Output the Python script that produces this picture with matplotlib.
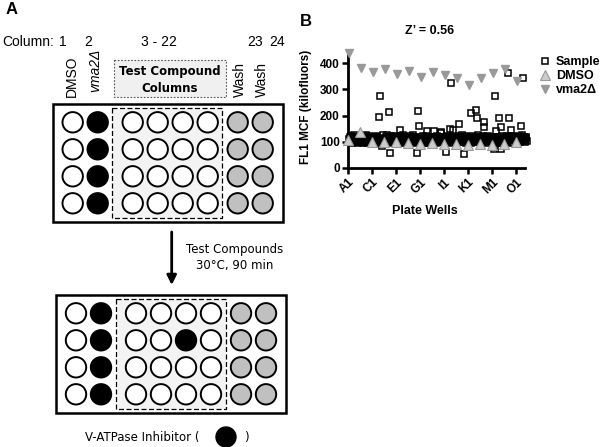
import matplotlib
matplotlib.use("Agg")
import matplotlib.pyplot as plt
from matplotlib.patches import Circle, Rectangle

plt.rcParams["font.family"] = ["Liberation Sans", "DejaVu Sans"]

# -------------------------
# Panel B data
# -------------------------
well_labels = ["A1", "C1", "E1", "G1", "I1", "K1", "M1", "O1"]
label_wells = [0, 48, 96, 144, 192, 240, 288, 336]

# column 1 (DMSO) and column 2 (vma2 delta) of rows A..O
dmso_mcf = [105, 137, 99, 99, 99, 95, 91, 95, 91, 91, 88, 91, 88, 91, 101]
vma2_mcf = [438, 381, 365, 377, 359, 370, 347, 368, 356, 345, 315, 345, 362, 377, 330]

# test compound columns 3..22, one list per plate row
sample_rows = [
    [112, 118, 105, 99, 121, 108, 96, 115, 103, 110, 124, 100, 107, 98, 117, 111, 104, 120, 97, 109],
    [108, 122, 101, 114, 96, 119, 105, 111, 99, 126, 103, 116, 94, 110, 107, 121, 100, 113, 118, 98],
    [115, 104, 120, 97, 110, 123, 101, 108, 118, 95, 112, 106, 194, 116, 273, 103, 99, 82, 111, 127],
    [106, 119, 98, 113, 125, 102, 109, 117, 213, 100, 57, 121, 96, 112, 104, 118, 108, 99, 115, 122],
    [101, 114, 109, 97, 120, 106, 146, 111, 123, 99, 117, 104, 126, 95, 112, 108, 119, 102, 115, 107],
    [110, 98, 121, 105, 116, 100, 113, 107, 124, 96, 119, 103, 111, 118, 101, 57, 114, 106, 218, 162],
    [104, 117, 99, 112, 121, 108, 95, 115, 102, 110, 123, 141, 106, 118, 97, 113, 109, 120, 101, 116],
    [113, 100, 142, 107, 119, 96, 111, 104, 122, 98, 115, 109, 101, 117, 106, 133, 138, 103, 120, 108],
    [107, 118, 61, 112, 99, 121, 104, 115, 110, 150, 97, 119, 324, 106, 113, 101, 146, 117, 103, 111],
    [116, 102, 110, 121, 169, 98, 113, 107, 119, 104, 125, 100, 112, 55, 117, 106, 109, 122, 97, 114],
    [103, 119, 108, 96, 210, 114, 101, 122, 110, 99, 117, 106, 113, 120, 222, 190, 105, 124, 98, 111],
    [118, 105, 111, 99, 121, 174, 158, 107, 115, 102, 119, 96, 112, 108, 123, 101, 116, 110, 104, 120],
    [109, 116, 74, 102, 273, 143, 120, 98, 113, 106, 118, 101, 190, 111, 104, 74, 158, 122, 97, 115],
    [104, 117, 110, 99, 121, 362, 106, 114, 190, 101, 119, 146, 108, 123, 97, 112, 105, 118, 120, 110],
    [112, 100, 118, 106, 121, 98, 115, 162, 109, 125, 103, 117, 343, 111, 120, 107, 99, 114, 118, 104],
]

# -------------------------
# Panel A schematic layout (pixel units)
# -------------------------
col_numbers = ["1", "2", "3 - 22", "23", "24"]
col_number_x = [63, 88, 159, 255, 277]
plate_cols = ["dmso", "vma2", "test", "test", "test", "test", "wash", "wash"]
col_offsets = [0, 25, 60, 85, 110, 135, 165, 190]
row_offsets = [0, 27, 54, 81]
well_fill = {"dmso": "white", "vma2": "black", "test": "white", "wash": "#c0c0c0"}
plate_origins = [(72.7, 122.3), (76, 313.3)]
hit_well = (1, 4)  # row, column index on the second plate

fig = plt.figure(figsize=(6, 4.47), dpi=100)

# overlay axes for the schematic, in pixel coordinates
sk = fig.add_axes([0, 0, 1, 1])
sk.set_xlim(0, 600)
sk.set_ylim(447, 0)
sk.axis("off")

sk.text(12, 10, "A", fontsize=12, fontweight="bold", va="center", ha="center")
sk.text(306, 21, "B", fontsize=12, fontweight="bold", va="center", ha="center")

sk.text(2, 42, "Column:", fontsize=10, va="center")
for lab, x in zip(col_numbers, col_number_x):
    sk.text(x, 42, lab, fontsize=10, va="center", ha="center")

sk.text(72, 97, "DMSO", fontsize=10, rotation=90, ha="center", va="bottom")
sk.text(95, 92, "vma2Δ", fontsize=10, rotation=90, ha="center", va="bottom",
        style="italic")
sk.text(240, 97, "Wash", fontsize=10, rotation=90, ha="center", va="bottom")
sk.text(262, 97, "Wash", fontsize=10, rotation=90, ha="center", va="bottom")

sk.add_patch(Rectangle((114, 60), 112, 37, facecolor="#f0f0f0", edgecolor="#555555",
                       lw=0.8, ls=(0, (1.5, 1.5))))
sk.text(170, 71, "Test Compound", fontsize=8.5, fontweight="bold", ha="center",
        va="center", family="DejaVu Sans")
sk.text(170, 89, "Columns", fontsize=8.5, fontweight="bold", ha="center",
        va="center", family="DejaVu Sans")

for p, (ox, oy) in enumerate(plate_origins):
    sk.add_patch(Rectangle((ox - 20, oy - 18), 230, 118, facecolor="white",
                           edgecolor="black", lw=1.8, zorder=1))
    sk.add_patch(Rectangle((ox + 39.5, oy - 14.5), 110, 110, facecolor="#f3f3f3",
                           edgecolor="black", lw=0.9, ls=(0, (4, 2)), zorder=2))
    for r, dy in enumerate(row_offsets):
        for c, (kind, dx) in enumerate(zip(plate_cols, col_offsets)):
            fc = well_fill[kind]
            if p == 1 and (r, c) == hit_well:
                fc = "black"
            sk.add_patch(Circle((ox + dx, oy + dy), 10.2, facecolor=fc,
                                edgecolor="black", lw=1.4, zorder=3))

sk.annotate("", xy=(171.7, 285), xytext=(171.7, 232),
            arrowprops=dict(arrowstyle="-|>", lw=2, color="black",
                            mutation_scale=14, shrinkA=0, shrinkB=0))
sk.text(235, 250, "Test Compounds", fontsize=8.5, ha="center", va="center",
        family="DejaVu Sans")
sk.text(235, 265, "30°C, 90 min", fontsize=8.5, ha="center", va="center",
        family="DejaVu Sans")

sk.text(85, 437, "V-ATPase Inhibitor (", fontsize=8.5, ha="left", va="center",
        family="DejaVu Sans")
sk.add_patch(Circle((226, 437), 10, facecolor="black", edgecolor="black"))
sk.text(244, 437, ")", fontsize=8.5, ha="left", va="center", family="DejaVu Sans")

# -------------------------
# Panel B scatter
# -------------------------
ax = fig.add_axes([348 / 600, 1 - 168 / 447, 177 / 600, 118 / 447])

sample_x, sample_y = [], []
for r, row in enumerate(sample_rows):
    for i, v in enumerate(row):
        sample_x.append(24 * r + 2 + i)
        sample_y.append(v)
dmso_x = [24 * r for r in range(len(dmso_mcf))]
vma2_x = [24 * r + 1 for r in range(len(vma2_mcf))]

ax.plot(sample_x, sample_y, ls="none", marker="s", ms=5, mfc="none", mec="black",
        mew=1.1, label="Sample", zorder=2, clip_on=False)
ax.plot(dmso_x, dmso_mcf, ls="none", marker="^", ms=6.5, mfc="#cccccc", mec="#999999",
        mew=0.8, label="DMSO", zorder=3, clip_on=False)
ax.plot(vma2_x, vma2_mcf, ls="none", marker="v", ms=5.5, color="#999999",
        label="vma2Δ", zorder=3, clip_on=False)

ax.set_xlim(0, 354)
ax.set_ylim(0, 450)
ax.set_yticks([0, 100, 200, 300, 400])
ax.set_xticks(label_wells)
ax.set_xticklabels(well_labels, rotation=45, ha="right", rotation_mode="anchor")
for lab in ax.get_xticklabels() + ax.get_yticklabels():
    lab.set_fontweight("bold")
    lab.set_fontsize(8.5)
for s in ["top", "right"]:
    ax.spines[s].set_visible(False)
for s in ["left", "bottom"]:
    ax.spines[s].set_linewidth(2)
ax.tick_params(direction="out", length=4, width=1.8, pad=2)

ax.set_xlabel("Plate Wells", fontsize=9, fontweight="bold")
ax.xaxis.set_label_coords(0.435, -0.31)
ax.set_ylabel("FL1 MCF (kilofluors)", fontsize=8.5, fontweight="bold")
ax.yaxis.set_label_coords(-0.203, 0.52)

sk.text(430, 31, "Z’ = 0.56", fontsize=9, fontweight="bold", ha="center", va="center")

ax.legend(loc="upper left", bbox_to_anchor=(1.04, 0.99), frameon=False,
          prop=dict(weight="bold", size=9), handletextpad=0.3, labelspacing=0.15,
          borderaxespad=0, handlelength=1.2)

fig.savefig("out.png", dpi=100)
